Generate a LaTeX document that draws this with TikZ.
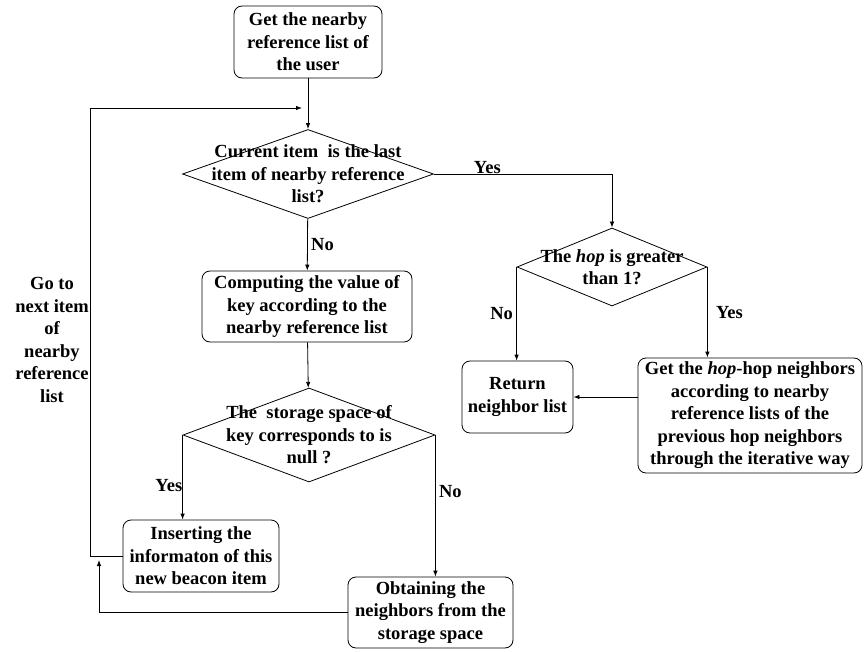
\documentclass[tikz,border=0pt]{standalone}
\usepackage{fontspec}
\setmainfont{Liberation Serif}
\usepackage{tikz}
\usetikzlibrary{arrows.meta}
\usetikzlibrary{shapes.geometric}

\begin{document}
\begin{tikzpicture}[x=1pt,y=-1pt,line width=0.8pt,every node/.style={font=\fontsize{18.5}{22.5}\selectfont\bfseries, align=center},
	box/.style={draw, rounded corners=8pt, inner sep=2pt},
	decision/.style={draw, diamond, inner sep=0pt},
	arrow/.style={-{Latex[length=6pt,width=4.5pt]}}]
	
	\useasboundingbox (0,0) rectangle (867,652);
	
	\node[box, minimum width=148pt, minimum height=72pt] (getlist) at (308,42) {Get the nearby\\reference list of\\the user};
	\node[decision, minimum width=251pt, minimum height=89pt] (islast) at (308,174) {};
	\node at (islast) {Current item~ is the last\\item of nearby reference\\list?};
	\node[box, minimum width=210pt, minimum height=71pt] (compute) at (307,306.5) {Computing the value of\\key according to the\\nearby reference list};
	\node[decision, minimum width=252pt, minimum height=94pt] (isnull) at (309,435) {};
	\node at (isnull) {The~ storage space of\\key corresponds to is\\null ?};
	\node[box, minimum width=156pt, minimum height=72pt] (insert) at (201,556) {Inserting the\\informaton of this\\new beacon item};
	\node[box, minimum width=165pt, minimum height=71pt] (obtain) at (430.5,612.5) {Obtaining the\\neighbors from the\\storage space};
	\node[decision, minimum width=190pt, minimum height=78pt] (ishop) at (612,267) {};
	\node at (ishop) {The \textit{hop} is greater\\than 1?};
	\node[box, minimum width=111pt, minimum height=72pt] (retlist) at (517.5,397) {Return\\neighbor list};
	\node[box, minimum width=224pt, minimum height=115pt] (gethop) at (750,415.5) {Get the \textit{hop}-hop neighbors\\according to nearby\\reference lists of the\\previous hop neighbors\\through the iterative way};
	\node (goto) at (52,340) {Go to\\next item\\of\\nearby\\reference\\list};
	
	\coordinate (loop) at (302,108);
	\coordinate (back) at (99,560);
	
	\draw[arrow] (getlist) -- (islast);
	\draw[arrow] (insert.west) -- ++(-32,0) |- (loop);
	\draw[arrow] (islast) -- node[right]{No} (compute);
	\draw[arrow] (islast.east) -| node[above, pos=0.15, inner sep=0pt]{Yes} (ishop.north);
	\draw[arrow] (compute) -- (isnull);
	\draw[arrow] (isnull.west) -- node[left, pos=0.6, inner sep=0pt]{Yes} (isnull.west |- insert.north);
	\draw[arrow] (isnull.east) -- node[right, pos=0.4]{No} (isnull.east |- obtain.north);
	\draw[arrow] (obtain.west) -| (back);
	\draw[arrow] (ishop.west) -- node[left]{No} (ishop.west |- retlist.north);
	\draw[arrow] (ishop.east) -- node[right, xshift=5pt]{Yes} (ishop.east |- gethop.north);
	\draw[arrow] (gethop.west |- retlist.east) -- (retlist.east);
	
\end{tikzpicture}
\end{document}
